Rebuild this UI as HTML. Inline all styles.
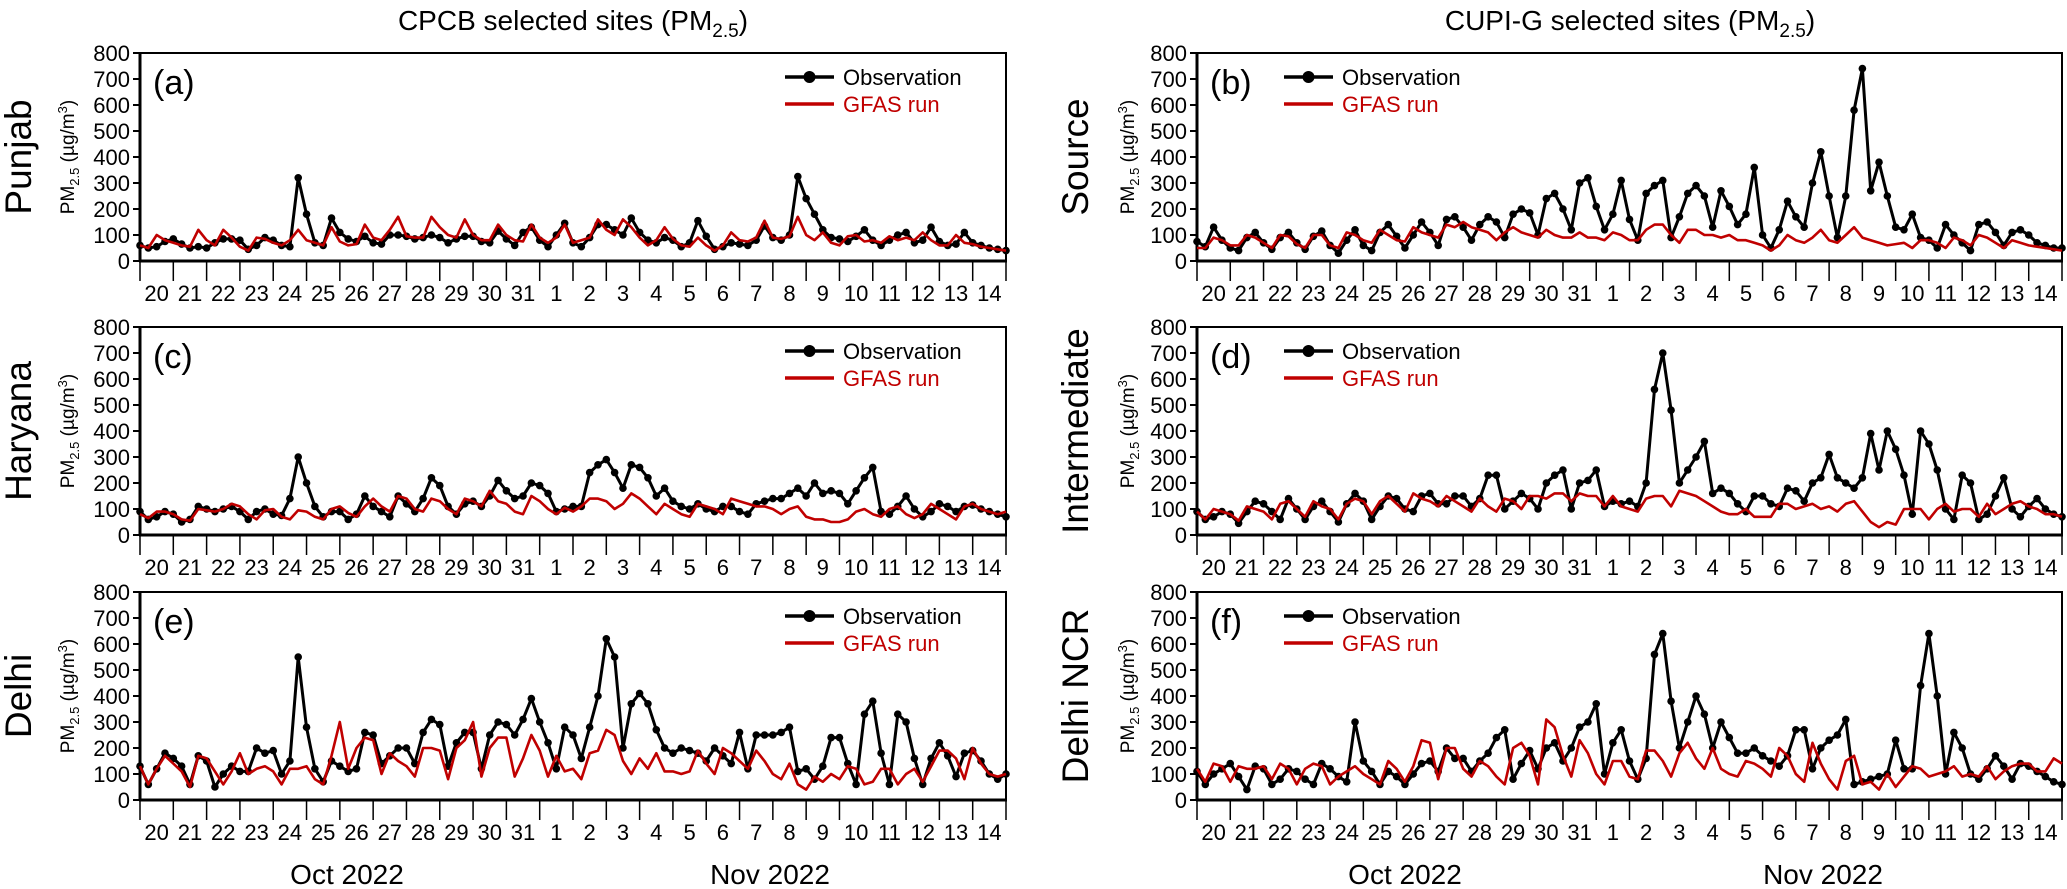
<!DOCTYPE html>
<html><head><meta charset="utf-8">
<style>
html,body{margin:0;padding:0;background:#fff;}
svg{display:block;font-family:"Liberation Sans",Arial,sans-serif;}
</style></head>
<body>
<svg id="chart" width="2067" height="889" viewBox="0 0 2067 889" xmlns="http://www.w3.org/2000/svg">
<text x="573" y="30" font-size="28" text-anchor="middle">CPCB selected sites (PM<tspan font-size="19" dy="7">2.5</tspan><tspan dy="-7">)</tspan></text>
<text x="1630" y="30" font-size="28" text-anchor="middle">CUPI-G selected sites (PM<tspan font-size="19" dy="7">2.5</tspan><tspan dy="-7">)</tspan></text>
<text x="347" y="884" font-size="28" text-anchor="middle">Oct 2022</text>
<text x="770" y="884" font-size="28" text-anchor="middle">Nov 2022</text>
<text x="1405" y="884" font-size="28" text-anchor="middle">Oct 2022</text>
<text x="1823" y="884" font-size="28" text-anchor="middle">Nov 2022</text>
</svg>
<script>
const days = ['20','21','22','23','24','25','26','27','28','29','30','31','1','2','3','4','5','6','7','8','9','10','11','12','13','14'];
const yTicks = [0,100,200,300,400,500,600,700,800];

const obsA = [60,50,55,75, 85,65,50,55, 50,70,85,85, 80,45,60,90, 80,60,55,320, 180,70,60,165, 110,85,75,95, 70,65,100,100, 95,85,90,100, 90,70,85,95, 95,75,70,115, 85,60,110,130, 80,55,100,145, 70,55,90,140, 140,120,100,165, 110,80,70,90, 80,55,70,155, 95,45,55,70, 65,60,80,135, 90,80,100,325, 240,180,120,90, 85,75,95,120, 80,60,80,100, 110,70,80,130, 75,60,65,110, 70,60,50,45, 40];
const gfasA = [60,50,100,80, 70,60,55,120, 80,60,120,90, 55,40,90,85, 70,60,80,120, 80,70,60,130, 75,60,65,140, 90,80,120,170, 95,90,90,170, 130,100,90,160, 100,80,80,140, 100,80,75,140, 90,70,90,140, 70,80,90,160, 120,100,160,130, 90,60,80,130, 85,60,55,90, 60,40,60,110, 80,75,90,155, 90,85,95,170, 100,80,110,70, 60,95,100,75, 80,70,95,80, 90,80,110,80, 60,60,100,70, 65,55,50,45, 40];

const obsB = [75,55,130,80, 50,40,90,110, 70,45,90,110, 70,45,95,115, 60,30,80,120, 60,40,110,140, 95,50,100,150, 110,60,160,170, 130,80,140,170, 150,90,180,200, 185,100,240,260, 200,120,300,320, 210,120,180,310, 160,80,260,290, 310,90,170,260, 290,250,130,270, 210,140,180,360, 100,50,120,230, 170,130,300,420, 250,90,250,580, 740,270,380,250, 130,120,180,90, 80,50,140,100, 70,40,140,150, 110,60,110,120, 100,70,60,50, 50];
const gfasB = [50,50,90,80, 60,60,100,90, 70,50,100,95, 65,50,100,100, 60,50,110,100, 80,70,120,100, 80,75,130,110, 100,90,140,130, 150,130,120,110, 80,110,130,110, 100,90,120,100, 90,90,110,90, 90,80,110,100, 80,80,120,140, 140,100,70,120, 120,100,100,90, 100,80,80,70, 60,40,60,100, 80,70,90,120, 80,70,100,130, 90,80,70,60, 65,70,50,80, 80,70,50,90, 80,60,100,90, 70,50,80,70, 60,55,50,45, 40];

const obsC = [90,60,70,90, 80,50,60,110, 100,90,100,110, 90,60,90,100, 80,75,140,300, 200,110,70,90, 90,60,80,150, 110,90,70,150, 120,90,140,220, 190,110,80,120, 130,110,150,210, 170,140,150,200, 190,160,90,100, 110,110,240,270, 290,240,180,270, 260,220,150,180, 130,110,100,120, 100,90,110,110, 90,80,120,130, 140,140,160,180, 150,200,160,170, 160,120,170,220, 260,90,80,110, 150,100,70,90, 120,110,90,110, 115,100,90,80, 70];
const gfasC = [80,65,90,90, 80,60,55,100, 95,90,100,120, 110,80,60,95, 100,70,60,95, 90,70,60,100, 110,85,70,110, 140,110,90,150, 140,100,90,140, 130,100,80,140, 130,110,170,130, 120,90,80,150, 130,100,80,105, 90,110,140,140, 130,100,120,160, 140,110,80,120, 100,80,70,120, 110,100,80,140, 130,120,110,110, 100,80,100,110, 70,60,60,50, 50,60,90,100, 80,70,100,110, 80,65,80,120, 100,80,60,110, 120,100,90,80, 90];

const obsD = [90,60,70,90, 80,45,90,130, 120,90,60,140, 100,60,110,130, 90,50,120,160, 130,60,110,150, 140,100,90,150, 160,120,120,150, 150,110,140,230, 230,100,130,160, 140,100,200,230, 250,100,200,210, 250,110,130,120, 130,110,200,560, 700,480,200,250, 300,360,160,180, 160,120,90,150, 150,120,110,180, 170,130,200,220, 310,220,200,180, 220,390,250,400, 330,230,80,400, 350,250,100,60, 230,200,60,80, 150,220,100,70, 110,140,100,80, 70];
const gfasD = [90,60,100,90, 80,55,110,100, 90,60,120,130, 100,70,130,110, 100,60,120,140, 130,80,130,150, 120,90,160,140, 130,110,150,130, 110,90,140,110, 90,140,130,100, 150,150,140,160, 160,130,160,150, 150,110,150,110, 100,90,140,150, 150,110,170,160, 150,130,110,90, 80,80,100,70, 70,70,120,120, 100,110,120,100, 110,90,120,130, 90,50,30,50, 40,100,100,100, 60,100,120,90, 100,100,70,120, 80,100,120,130, 110,100,80,80, 70];

const obsE = [130,60,120,180, 160,130,60,170, 150,50,100,130, 110,110,200,180, 190,100,150,550, 280,120,70,150, 130,110,120,260, 250,140,170,200, 200,140,260,310, 290,130,220,260, 260,120,250,300, 290,250,310,390, 300,220,120,280, 250,160,280,400, 620,550,200,370, 410,370,270,200, 180,200,190,180, 150,200,170,140, 260,120,250,250, 250,260,280,110, 120,80,130,240, 240,140,60,330, 380,180,60,330, 300,160,60,160, 220,170,90,180, 190,150,100,80, 100];
const gfasE = [130,60,120,170, 140,110,50,170, 160,110,60,110, 180,100,120,130, 110,60,120,120, 130,80,60,170, 300,120,200,240, 230,100,180,150, 130,90,200,200, 190,80,200,230, 300,90,200,240, 240,90,160,250, 190,90,170,110, 120,80,180,190, 270,250,150,100, 160,120,180,110, 110,100,110,190, 140,100,200,180, 150,120,190,150, 100,80,140,60, 40,90,70,100, 80,130,120,60, 70,120,120,60, 100,120,70,130, 190,190,160,80, 200,140,100,90, 100];

const obsF = [110,60,100,120, 140,90,40,130, 120,60,80,120, 110,80,60,140, 120,90,70,300, 150,110,60,110, 90,60,100,140, 150,110,200,160, 160,110,150,180, 240,270,80,140, 190,120,200,220, 150,200,280,300, 370,100,220,270, 150,80,160,560, 640,380,200,300, 400,330,200,300, 240,180,180,200, 170,150,130,170, 270,270,120,200, 230,250,310,60, 70,80,90,100, 230,120,120,440, 640,400,100,260, 200,100,80,120, 170,130,80,140, 130,110,90,70, 60];
const gfasF = [120,70,140,130, 70,130,120,120, 130,80,140,120, 60,120,140,130, 60,90,110,130, 100,80,60,150, 120,70,130,230, 220,80,200,200, 120,90,150,130, 90,60,200,220, 170,60,310,280, 170,90,230,180, 100,60,150,150, 90,80,190,190, 150,90,180,220, 160,120,200,120, 100,90,150,140, 120,90,200,170, 100,70,220,140, 80,40,150,170, 60,70,40,100, 50,90,130,120, 90,100,110,130, 90,100,90,130, 80,110,130,140, 140,110,110,160, 140];

const NS = 'http://www.w3.org/2000/svg';
const svg = document.getElementById('chart');
const YMAX = 800, PH = 208, NPTS = 104;

const panels = [
  {key:'a', site:'Punjab', obs:obsA, gfas:gfasA, x0:140, x1:1006, top:53, rowX:18, titleX:67, legX:785},
  {key:'b', site:'Source', obs:obsB, gfas:gfasB, x0:1197, x1:2062, top:53, rowX:1075, titleX:1127, legX:1284},
  {key:'c', site:'Haryana', obs:obsC, gfas:gfasC, x0:140, x1:1006, top:327, rowX:18, titleX:67, legX:785},
  {key:'d', site:'Intermediate', obs:obsD, gfas:gfasD, x0:1197, x1:2062, top:327, rowX:1075, titleX:1127, legX:1284},
  {key:'e', site:'Delhi', obs:obsE, gfas:gfasE, x0:140, x1:1006, top:592, rowX:18, titleX:67, legX:785},
  {key:'f', site:'Delhi NCR', obs:obsF, gfas:gfasF, x0:1197, x1:2062, top:592, rowX:1075, titleX:1127, legX:1284}
];

function mk(tag, attrs, parent){
  const e = document.createElementNS(NS, tag);
  for (const k in attrs) e.setAttribute(k, attrs[k]);
  (parent||svg).appendChild(e);
  return e;
}

panels.forEach(p => {
  const bottom = p.top + PH;
  const xs = i => p.x0 + i*(p.x1-p.x0)/NPTS;
  const ys = v => bottom - v/YMAX*PH;
  const g = mk('g', {});
  
  

  const frame = mk('rect', {x:p.x0, y:p.top, width:p.x1-p.x0, height:PH, fill:'none', stroke:'#000', 'stroke-width':2}, g);
  
  
  const xaxis = mk('line', {x1:p.x0-1, x2:p.x1+1, y1:bottom, y2:bottom, stroke:'#000', 'stroke-width':3}, g);
  
  
  const yaxis = mk('line', {x1:p.x0, x2:p.x0, y1:p.top, y2:bottom+1, stroke:'#000', 'stroke-width':3}, g);
  
  

  yTicks.forEach(t => {
    const tk = mk('line', {x1:p.x0-7, x2:p.x0, y1:ys(t), y2:ys(t), stroke:'#000', 'stroke-width':2}, g);
    
    
    const lb = mk('text', {x:p.x0-10, y:ys(t)+8, 'font-size':22, 'text-anchor':'end'}, g);
    lb.textContent = t;
    
    
  });

  const dw = (p.x1-p.x0)/days.length;
  for (let i=0;i<=days.length;i++){
    const tk = mk('line', {x1:p.x0+i*dw, x2:p.x0+i*dw, y1:bottom, y2:bottom+20, stroke:'#000', 'stroke-width':1.5}, g);
    
    
  }
  days.forEach((d,i) => {
    const lb = mk('text', {x:p.x0+(i+0.5)*dw, y:bottom+40, 'font-size':22, 'text-anchor':'middle'}, g);
    lb.textContent = d;
    
    
  });

  const cy = p.top + PH/2;
  const rl = mk('text', {x:p.rowX+13, y:cy, 'font-size':37, 'text-anchor':'middle', transform:'rotate(-90 '+(p.rowX+13)+' '+cy+')'}, g);
  rl.textContent = p.site;
  
  
  const yt = mk('text', {x:p.titleX+7, y:cy, 'font-size':19, 'text-anchor':'middle', transform:'rotate(-90 '+(p.titleX+7)+' '+cy+')'}, g);
  yt.innerHTML = 'PM<tspan font-size="13" dy="5">2.5</tspan><tspan dy="-5"> (µg/m</tspan><tspan font-size="13" dy="-7">3</tspan><tspan dy="7">)</tspan>';
  
  

  const pl = mk('text', {x:p.x0+13, y:p.top+41, 'font-size':34}, g);
  pl.textContent = '(' + p.key + ')';
  
  

  const ly = p.top + 24;
  const l1 = mk('line', {x1:p.legX, x2:p.legX+49, y1:ly, y2:ly, stroke:'#000', 'stroke-width':3.5}, g);
  
  
  const l1m = mk('circle', {cx:p.legX+24.5, cy:ly, r:6, fill:'#000'}, g);
  
  
  const l1t = mk('text', {x:p.legX+58, y:ly+8, 'font-size':22}, g);
  l1t.textContent = 'Observation';
  
  
  const l2 = mk('line', {x1:p.legX, x2:p.legX+49, y1:ly+27, y2:ly+27, stroke:'#c00000', 'stroke-width':3.5}, g);
  
  
  const l2t = mk('text', {x:p.legX+58, y:ly+35, 'font-size':22, fill:'#c00000'}, g);
  l2t.textContent = 'GFAS run';
  
  

  const op = p.obs.map((v,i)=>xs(i).toFixed(1)+','+ys(v).toFixed(1)).join(' ');
  const ol = mk('polyline', {points:op, fill:'none', stroke:'#000', 'stroke-width':3, 'stroke-linejoin':'round'}, g);
  
  
  const mg = mk('g', {fill:'#000'}, g);
  
  
  p.obs.forEach((v,i) => {
    const c = mk('circle', {cx:xs(i), cy:ys(v), r:3.8}, mg);
    
    
  });

  const gp = p.gfas.map((v,i)=>xs(i).toFixed(1)+','+ys(v).toFixed(1)).join(' ');
  const gl = mk('polyline', {points:gp, fill:'none', stroke:'#c00000', 'stroke-width':2.6, 'stroke-linejoin':'round'}, g);
  
  
});
</script>
</body></html>
